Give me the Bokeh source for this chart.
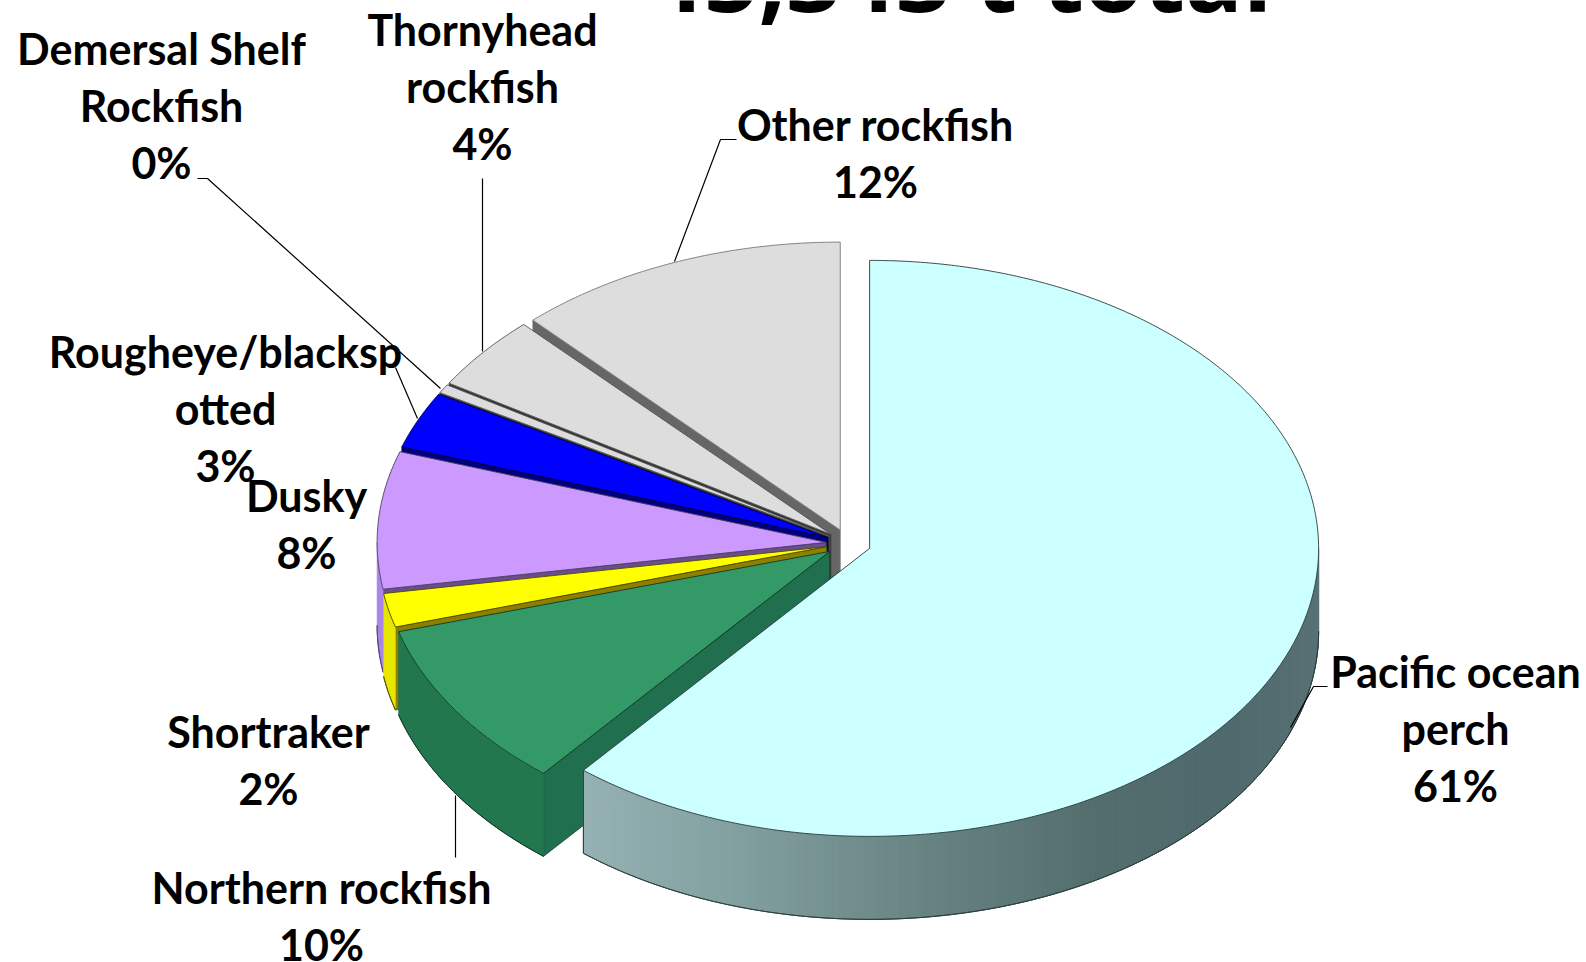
import numpy as np
from bokeh.core.properties import value
from bokeh.embed import file_html
from bokeh.models import ColumnDataSource, Range1d
from bokeh.plotting import figure
from bokeh.resources import INLINE

TITLE = "45,343 t total"
species = ["Pacific ocean perch", "Northern rockfish", "Shortraker", "Dusky",
           "Rougheye/blackspotted", "Demersal Shelf Rockfish", "Thornyhead rockfish", "Other rockfish"]
shares = [61.0, 9.5, 1.9, 7.7, 3.2, 0.5, 4.2, 12.0]
pct_labels = ["61%", "10%", "2%", "8%", "3%", "0%", "4%", "12%"]
label_lines = [["Pacific ocean", "perch"], ["Northern rockfish"], ["Shortraker"], ["Dusky"],
               ["Rougheye/blacksp", "otted"], ["Demersal Shelf", "Rockfish"], ["Thornyhead", "rockfish"], ["Other rockfish"]]

# styling
top_colors = ["#CCFFFF", "#339966", "#FFFF00", "#CC99FF", "#0000FF", "#DDDDDD", "#DDDDDD", "#DDDDDD"]
rim_colors = ["#5A7478", "#23774F", "#E6E600", "#A985E8", "#0000B0", "#999999", "#999999", "#999999"]
cut_colors = ["#5A7478", "#20704F", "#8F7F00", "#6B4C8F", "#00007F", "#333333", "#333333", "#666666"]
edge_colors = ["#2A3A3A", "#0F3A28", "#4A4A00", "#4A4060", "#000040", "#555555", "#555555", "#777777"]
label_anchor = [(1455, 686), (321, 902), (268, 746), (306, 510), (225, 366), (161, 63), (482, 44), (875, 139)]
leaders = [[(1327, 686), (1313, 686), (1290, 727)], [(455, 795), (455, 857)], [], [],
           [(395, 367), (417, 418)], [(197, 178), (207, 178), (440, 388)],
           [(482, 178), (482, 351)], [(736, 139), (720, 139), (674, 261)]]
CX, CY, RX, RY, DEPTH, EXPLODE = 848, 543, 449, 288, 83, 0.05
LINE_H = 57
FONT = "Lato"
TITLE_FONT = "Open Sans"
LABEL_PX = 43
TITLE_PX = 96
BASELINE_FIX = 0.36  # fraction of the font size the renderer pushes a baseline down

# POP rim shading: angle (deg clockwise from 12 o'clock) -> grey-teal
SHADE_ANG = [90, 130, 150, 170, 200, 220]
SHADE_RGB = [(92, 115, 120), (79, 106, 109), (84, 110, 110), (100, 128, 127), (134, 163, 163), (150, 178, 181)]


def shade(t):
    return "#%02X%02X%02X" % tuple(int(np.interp(t, SHADE_ANG, [c[i] for c in SHADE_RGB])) for i in range(3))


p = figure(width=1586, height=962, output_backend="svg", toolbar_location=None,
           x_range=Range1d(0, 1586), y_range=Range1d(962, 0), min_border=0,
           outline_line_color=None, margin=(0, 0, 0, 0))
p.axis.visible = False
p.grid.visible = False

xs, ys, fills, lines, widths = [], [], [], [], []


def add(x, y, fill, line, w):
    xs.append(list(x)); ys.append(list(y)); fills.append(fill); lines.append(line); widths.append(w)


def add_stroke(x, y, line, w):
    x, y = list(x), list(y)
    add(x + x[::-1], y + y[::-1], line, line, w)


edges = np.cumsum([0.0] + shares) * 3.6
slices = list(range(len(shares)))[::-1]  # back of the pie first
for i in slices:
    a0, a1 = edges[i], edges[i + 1]
    mid = np.radians((a0 + a1) / 2)
    ax = CX + EXPLODE * RX * np.sin(mid)
    ay = CY - EXPLODE * RY * np.cos(mid)
    px = lambda t: ax + RX * np.sin(np.radians(t))
    py = lambda t: ay - RY * np.cos(np.radians(t))
    # cut faces that turn towards the viewer
    for t, facing in ((a0, np.sin(np.radians(a0)) < -1e-6), (a1, np.sin(np.radians(a1)) > 1e-6)):
        if facing:
            add([ax, px(t), px(t), ax], [ay, py(t), py(t) + DEPTH, ay + DEPTH], cut_colors[i], edge_colors[i], 0.8)
    # outer wall, front half only
    lo, hi = max(a0, 90.0), min(a1, 270.0)
    if hi > lo:
        ts = np.linspace(lo, hi, max(int((hi - lo) * 1.5), 2) + 1)
        if i == 0:
            for t0, t1 in zip(ts[:-1], ts[1:]):
                c = shade((t0 + t1) / 2)
                add([px(t0), px(t1), px(t1), px(t0)], [py(t0), py(t1), py(t1) + DEPTH, py(t0) + DEPTH], c, c, 1.0)
            add_stroke([px(hi), px(hi)], [py(hi), py(hi) + DEPTH], edge_colors[i], 0.8)
        else:
            add(list(px(ts)) + list(px(ts[::-1])), list(py(ts)) + list(py(ts[::-1]) + DEPTH),
                rim_colors[i], rim_colors[i], 0.6)
        add_stroke(px(ts), py(ts) + DEPTH, edge_colors[i], 0.8)
    # top face
    ts = np.linspace(a0, a1, max(int(a1 - a0) * 2, 3) + 1)
    add([ax] + list(px(ts)), [ay] + list(py(ts)), top_colors[i], edge_colors[i], 0.9)

p.patches("xs", "ys", fill_color="fill", line_color="line", line_width="w",
          source=ColumnDataSource(dict(xs=xs, ys=ys, fill=fills, line=lines, w=widths)))

for pts in leaders:
    if pts:
        p.line([q[0] for q in pts], [q[1] for q in pts], line_color="#000000", line_width=1.2)

tx, ty, tt = [], [], []
for i, lines_i in enumerate(label_lines):
    x0, y0 = label_anchor[i]
    for k, s in enumerate(lines_i + [pct_labels[i]]):
        tx.append(x0); ty.append(y0 + k * LINE_H - BASELINE_FIX * LABEL_PX); tt.append(s)
p.text(tx, ty, text=tt, text_font=value(FONT), text_font_style="bold", text_font_size=f"{LABEL_PX}px",
       text_align="center", text_baseline="alphabetic", text_color="#000000")

p.text([960], [39], text=[TITLE], text_font=value(TITLE_FONT), text_font_style="bold",
       text_font_size=f"{TITLE_PX}px", text_align="center", text_baseline="bottom", text_color="#000000")

open("out.html", "w").write(file_html(p, INLINE))
